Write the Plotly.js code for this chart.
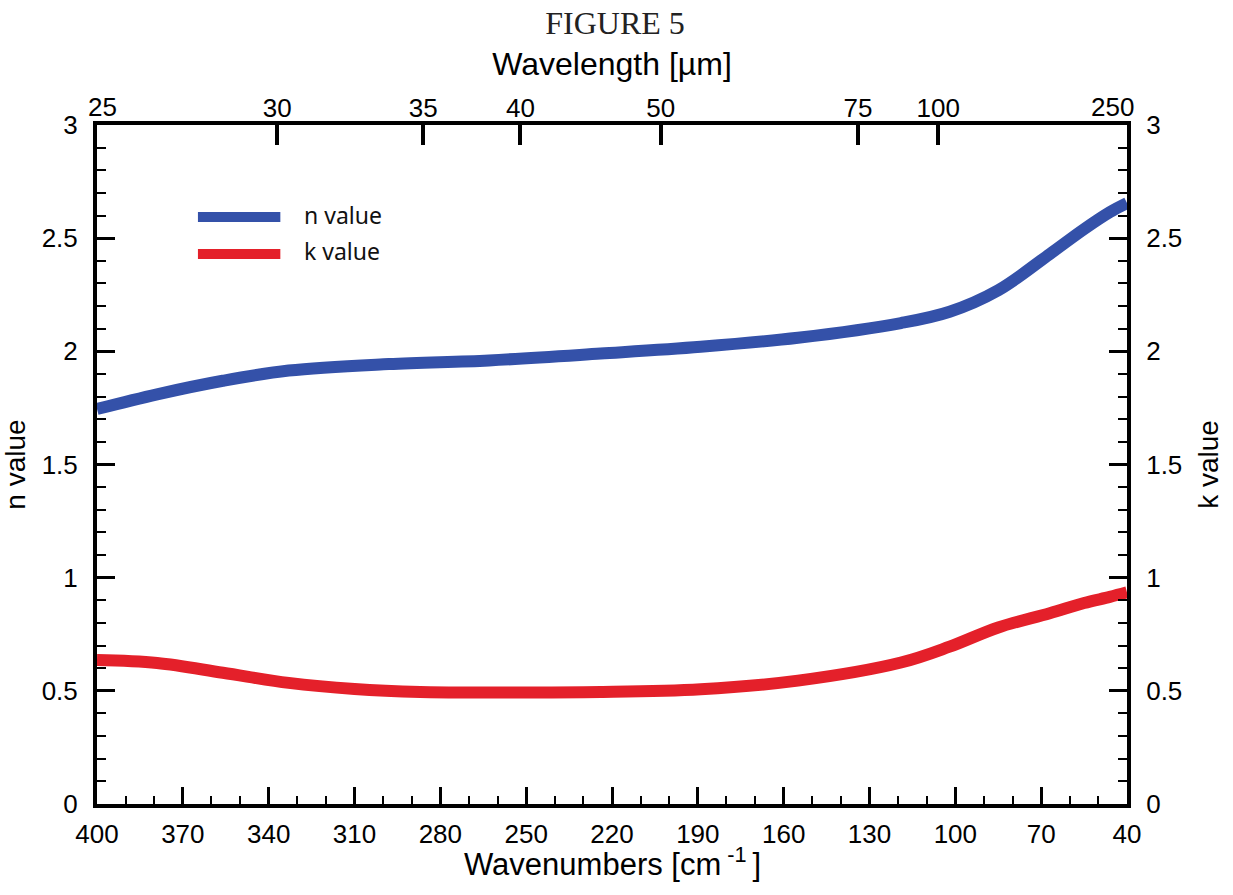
<!DOCTYPE html>
<html>
<head>
<meta charset="utf-8">
<script src="https://cdn.plot.ly/plotly-3.0.1.min.js"></script>
<style>
  html, body { margin: 0; padding: 0; background: #ffffff; }
  #chart { width: 1233px; height: 895px; }
</style>
</head>
<body>
<div id="chart"></div>
<script>
// Wavenumbers (cm^-1) and optical constants
const nWavenumbers = [400, 379, 356, 333, 298, 263, 224, 189, 155, 119, 102, 85, 67, 55, 46, 40];
const nValues      = [1.745, 1.81, 1.87, 1.915, 1.944, 1.96, 1.99, 2.02, 2.06, 2.125, 2.175, 2.27, 2.43, 2.54, 2.615, 2.655];

const kWavenumbers = [400, 379, 356, 333, 310, 287, 263, 224, 189, 155, 119, 102, 85, 67, 55, 46, 40];
const kValues      = [0.636, 0.623, 0.58, 0.535, 0.508, 0.495, 0.493, 0.495, 0.507, 0.545, 0.625, 0.695, 0.78, 0.843, 0.888, 0.915, 0.935];

// Top axis: wavelength (µm) tick labels and their wavenumber positions as drawn
const wlTickPos   = [337, 286, 252, 203, 134, 106];
const wlTickLabel = ['30', '35', '40', '50', '75', '100'];
const wlEndLabels = ['25', '250'];
const wnRange = [400, 40];

const blue = '#3451a9';
const red = '#e4202a';
const sans = 'Liberation Sans, Arial, sans-serif';

const traces = [
  {
    x: nWavenumbers, y: nValues, type: 'scatter', mode: 'lines',
    name: 'n value', line: {color: blue, width: 12, shape: 'spline', smoothing: 1.0},
    xaxis: 'x', yaxis: 'y', showlegend: false
  },
  {
    x: kWavenumbers, y: kValues, type: 'scatter', mode: 'lines',
    name: 'k value', line: {color: red, width: 12, shape: 'spline', smoothing: 1.0},
    xaxis: 'x2', yaxis: 'y2', showlegend: false
  }
];

const yCommon = {
  range: [0, 3], dtick: 0.5, tick0: 0,
  showline: true, linecolor: 'black', linewidth: 4,
  ticks: 'inside', ticklen: 18, tickwidth: 3, tickcolor: 'black',
  minor: {dtick: 0.1, ticks: 'inside', ticklen: 9, tickwidth: 2, tickcolor: 'black'},
  showgrid: false, zeroline: false,
  tickfont: {family: sans, size: 26, color: 'black'},
  ticklabelstandoff: 10
};

const layout = {
  width: 1233, height: 895,
  margin: {l: 97, r: 106, t: 125, b: 91},
  paper_bgcolor: 'white', plot_bgcolor: 'white',
  title: {
    text: 'FIGURE 5',
    font: {family: 'Liberation Serif, Times New Roman, serif', size: 32, color: '#222'},
    x: 0.503, xanchor: 'center', y: 0.975, yanchor: 'middle', xref: 'paper', yref: 'container'
  },
  xaxis: {
    range: wnRange, tick0: 40, dtick: 30,
    showline: true, linecolor: 'black', linewidth: 4,
    ticks: 'inside', ticklen: 17, tickwidth: 3, tickcolor: 'black',
    minor: {dtick: 10, ticks: 'inside', ticklen: 8, tickwidth: 2, tickcolor: 'black'},
    showgrid: false, zeroline: false,
    tickfont: {family: sans, size: 26, color: 'black'},
    ticklabelstandoff: 4
  },
  xaxis2: {
    overlaying: 'x', side: 'top', anchor: 'y2',
    range: wnRange, tickmode: 'array', tickvals: wlTickPos, ticktext: wlTickLabel,
    showline: true, linecolor: 'black', linewidth: 4,
    ticks: 'inside', ticklen: 20, tickwidth: 4, tickcolor: 'black',
    showgrid: false, zeroline: false,
    tickfont: {family: sans, size: 26, color: 'black'},
    ticklabelstandoff: -6,
    title: {text: 'Wavelength [µm]', font: {family: sans, size: 32, color: 'black'}, standoff: 8}
  },
  yaxis: Object.assign({}, yCommon, {
    side: 'left',
    title: {text: 'n value', font: {family: sans, size: 28, color: 'black'}, standoff: 18}
  }),
  yaxis2: Object.assign({}, yCommon, {
    side: 'right', overlaying: 'y', anchor: 'x2',
    title: {text: 'k value', font: {family: sans, size: 28, color: 'black'}, standoff: 18}
  }),
  annotations: [
    {xref: 'paper', yref: 'paper', x: 0.5, y: -0.086, xanchor: 'center', yanchor: 'middle',
     text: 'Wavenumbers [cm<sup> -1 </sup>]', showarrow: false, font: {family: sans, size: 31, color: 'black'}},
    {xref: 'x', yref: 'paper', x: wnRange[0], y: 1, xshift: 5, yshift: 1, yanchor: 'bottom', xanchor: 'center',
     text: wlEndLabels[0], showarrow: false, font: {family: sans, size: 26, color: 'black'}},
    {xref: 'x', yref: 'paper', x: wnRange[1], y: 1, xshift: -15, yshift: 1, yanchor: 'bottom', xanchor: 'center',
     text: wlEndLabels[1], showarrow: false, font: {family: sans, size: 26, color: 'black'}},
    {xref: 'paper', yref: 'paper', x: 0.199, y: 0.867, xanchor: 'left', yanchor: 'middle',
     text: 'n value', showarrow: false, font: {family: 'Noto Sans, Open Sans, sans-serif', size: 23, color: '#111'}},
    {xref: 'paper', yref: 'paper', x: 0.199, y: 0.815, xanchor: 'left', yanchor: 'middle',
     text: 'k value', showarrow: false, font: {family: 'Noto Sans, Open Sans, sans-serif', size: 23, color: '#111'}}
  ],
  shapes: [
    {type: 'line', xref: 'paper', yref: 'paper', x0: 0.098, x1: 0.178, y0: 0.8645, y1: 0.8645,
     line: {color: blue, width: 10}},
    {type: 'line', xref: 'paper', yref: 'paper', x0: 0.098, x1: 0.178, y0: 0.810, y1: 0.810,
     line: {color: red, width: 10}}
  ]
};

Plotly.newPlot('chart', traces, layout, {staticPlot: true, displayModeBar: false});
</script>
</body>
</html>
